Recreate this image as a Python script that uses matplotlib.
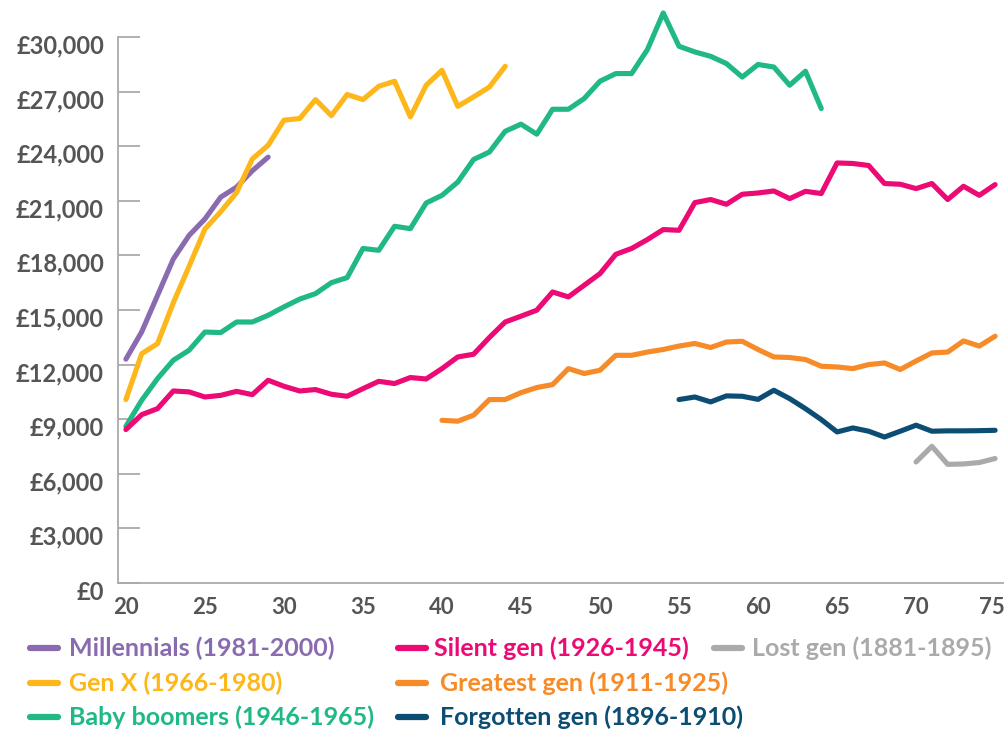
import matplotlib
matplotlib.use("Agg")
import matplotlib.pyplot as plt
import matplotlib.transforms as mtransforms
from matplotlib.lines import Line2D

# ages covered by each generation
millennials_ages = list(range(20, 30))
genx_ages = list(range(20, 45))
boomers_ages = list(range(20, 65))
silent_ages = list(range(20, 76))
greatest_ages = list(range(40, 76))
forgotten_ages = list(range(55, 76))
lost_ages = list(range(70, 76))

millennials = [12300, 13800, 15800, 17800, 19100, 20000, 21200, 21750, 22650, 23400]
genx = [10080, 12600, 13150, 15400, 17400, 19450, 20400, 21450, 23300, 24050,
        25430, 25520, 26560, 25680, 26840, 26560, 27290, 27570, 25610, 27350,
        28170, 26190, 26710, 27250, 28390]
boomers = [8610, 10040, 11230, 12240, 12790, 13790, 13760, 14340, 14340, 14710,
           15170, 15600, 15900, 16500, 16780, 18380, 18280, 19600, 19470, 20880,
           21300, 22030, 23270, 23680, 24820, 25210, 24660, 26030, 26030, 26620,
           27570, 27990, 27990, 29310, 31320, 29490, 29180, 28940, 28540, 27800,
           28490, 28350, 27350, 28120, 26070]
silent = [8430, 9250, 9580, 10550, 10500, 10220, 10310, 10530, 10350, 11140,
          10810, 10550, 10630, 10370, 10260, 10680, 11080, 10960, 11290, 11210,
          11780, 12420, 12570, 13490, 14340, 14660, 14990, 15990, 15720, 16360,
          17000, 18060, 18380, 18870, 19420, 19380, 20900, 21070, 20810, 21360,
          21430, 21540, 21120, 21520, 21400, 23080, 23050, 22940, 21950, 21910,
          21670, 21950, 21070, 21800, 21300, 21890]
greatest = [8940, 8890, 9220, 10080, 10080, 10460, 10740, 10900, 11780, 11510,
            11690, 12510, 12510, 12690, 12830, 13020, 13160, 12940, 13240, 13280,
            12830, 12420, 12390, 12280, 11910, 11870, 11780, 12000, 12090, 11730,
            12200, 12640, 12690, 13300, 13020, 13560]
forgotten = [10080, 10220, 9950, 10280, 10260, 10090, 10590, 10130, 9580, 8980,
             8300, 8520, 8340, 8020, 8340, 8670, 8340, 8360, 8360, 8370, 8390]
lost = [6650, 7510, 6520, 6540, 6620, 6840]

labels = ["Millennials (1981-2000)", "Gen X (1966-1980)", "Baby boomers (1946-1965)",
          "Silent gen (1926-1945)", "Greatest gen (1911-1925)", "Forgotten gen (1896-1910)",
          "Lost gen (1881-1895)"]
colors = ["#8a6bb0", "#fdb71a", "#20b886", "#ec0a74", "#f68b27", "#0c4d74", "#aaaaaa"]

y_ticks = list(range(0, 30001, 3000))
x_ticks = list(range(20, 76, 5))

plt.rcParams['font.family'] = ['Lato', 'DejaVu Sans']
grey_text = "#555555"
axis_grey = "#aaaaaa"

fig = plt.figure(figsize=(10.06, 7.29), dpi=100)
ax = fig.add_axes([118/1006, 1-583/729, (1003-118)/1006, (583-37)/729])

series = [(millennials_ages, millennials), (genx_ages, genx), (boomers_ages, boomers),
          (silent_ages, silent), (greatest_ages, greatest), (forgotten_ages, forgotten),
          (lost_ages, lost)]
for (xs, ys), c in zip(series, colors):
    ax.plot(xs, ys, color=c, lw=3.7, solid_capstyle='round', clip_on=False)

ax.set_xlim(19.5, 75.5)
ax.set_ylim(0, 30000)
for s in ['top', 'right']:
    ax.spines[s].set_visible(False)
for s in ['left', 'bottom']:
    ax.spines[s].set_color(axis_grey)
    ax.spines[s].set_linewidth(1.3)

ax.set_yticks(y_ticks)
ax.set_yticklabels(["£{:,}".format(v) for v in y_ticks])
ax.set_xticks(x_ticks)
ax.set_xticklabels([str(v) for v in x_ticks])
ax.tick_params(axis='y', direction='in', length=16, width=1.3, color=axis_grey,
               pad=10, labelsize=17, labelcolor=grey_text)
ax.tick_params(axis='x', length=0, pad=10, labelsize=16, labelcolor=grey_text)
for lab in ax.get_yticklabels() + ax.get_xticklabels():
    lab.set_fontweight('bold')
offset = mtransforms.ScaledTranslation(0, -7/100, fig.dpi_scale_trans)
for lab in ax.get_yticklabels():
    lab.set_transform(lab.get_transform() + offset)
# keep the last age label inside the canvas
last = ax.get_xticklabels()[-1]
last.set_transform(last.get_transform() + mtransforms.ScaledTranslation(-3/100, 0, fig.dpi_scale_trans))

# legend laid out by hand: three columns, last column holds one entry
legend_pos = [(30, 69, 648), (30, 69, 683), (30, 69, 717),
              (398, 434, 648), (398, 440, 683), (398, 440, 717),
              (714, 752, 648)]
for (hx, tx, py), lab, c in zip(legend_pos, labels, colors):
    fy = 1 - py/729
    fig.add_artist(Line2D([hx/1006, (hx+28)/1006], [fy, fy], color=c, lw=4.5,
                          solid_capstyle='round', transform=fig.transFigure))
    fig.text(tx/1006, fy, lab, color=c, fontsize=18, fontweight='bold',
             va='center', ha='left')

fig.savefig("out.png", dpi=100, facecolor='white')
